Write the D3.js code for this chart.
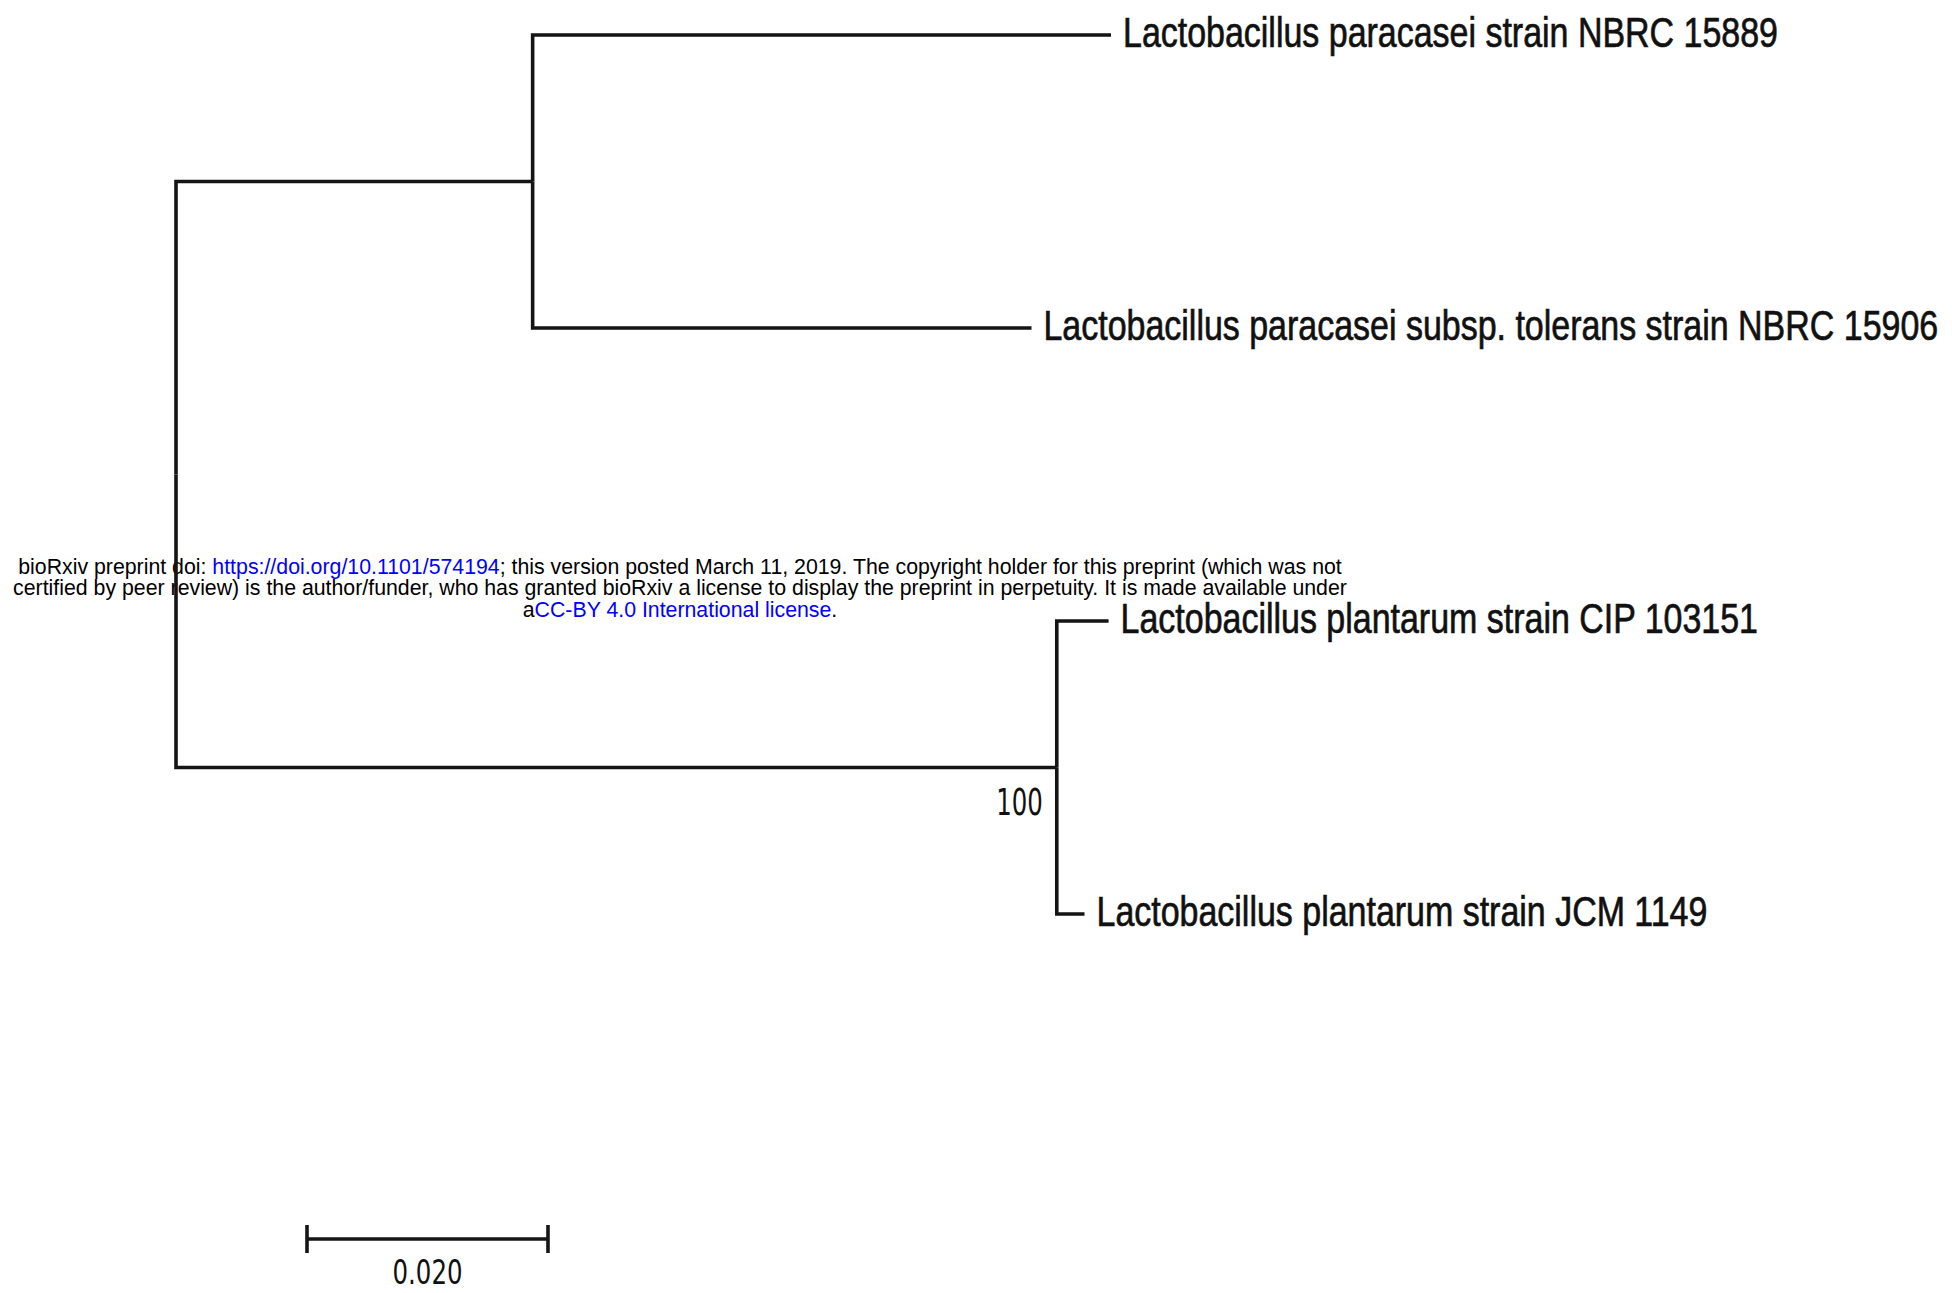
<!DOCTYPE html>
<html>
<head>
<meta charset="utf-8">
<script src="https://cdn.jsdelivr.net/npm/d3@7"></script>
<style>
  html, body { margin: 0; padding: 0; background: #fff; }
  svg { display: block; }
</style>
</head>
<body>
<svg id="chart" width="1952" height="1293"></svg>
<script>
// Taxa at the tips, top to bottom
const leafNames = [
  "Lactobacillus paracasei strain NBRC 15889",
  "Lactobacillus paracasei subsp. tolerans strain NBRC 15906",
  "Lactobacillus plantarum strain CIP 103151",
  "Lactobacillus plantarum strain JCM 1149"
];
// Terminal branch lengths (substitutions per site), same order as leafNames
const leafBranch = [0.0480, 0.0414, 0.0043, 0.0023];
// Which clade each leaf belongs to
const leafClade = [0, 0, 1, 1];
// Branch lengths from the root to each clade node
const cladeBranch = [0.0296, 0.0731];
// Bootstrap support for each clade node (null = not shown)
const cladeSupport = [null, 100];
// Scale bar
const scaleBarLength = 0.020;
const scaleBarLabel = "0.020";

// Build the tree structure
const treeData = {
  name: "root", length: 0,
  children: cladeBranch.map((len, ci) => ({
    name: "clade" + ci, length: len, support: cladeSupport[ci],
    children: leafNames
      .map((n, i) => ({ name: n, length: leafBranch[i], clade: leafClade[i] }))
      .filter(d => d.clade === ci)
  }))
};

const root = d3.hierarchy(treeData);
root.eachBefore(n => { n.dist = (n.parent ? n.parent.dist : 0) + (n.data.length || 0); });

const leaves = root.leaves();
const maxDist = d3.max(leaves, d => d.dist);

const x = d3.scaleLinear().domain([0, maxDist]).range([176, 1111]);
const y = d3.scalePoint().domain(leafNames).range([35, 914]);

root.eachAfter(n => {
  n.px = x(n.dist);
  n.py = n.children ? (d3.min(n.children, c => c.py) + d3.max(n.children, c => c.py)) / 2
                    : y(n.data.name);
});

const svg = d3.select("#chart");
const ink = "#151515";
const lineW = 3.6;
const g = svg.append("g");

// Preprint notice (drawn under the tree)
const notice = svg.insert("g", "g")
  .attr("font-family", "Liberation Sans, Arial, sans-serif")
  .attr("font-size", 21.3)
  .attr("text-anchor", "middle")
  .attr("fill", "#000");
const noticeLines = [
  [["bioRxiv preprint doi: ", "#000"], ["https://doi.org/10.1101/574194", "#0000ff"],
   ["; this version posted March 11, 2019. The copyright holder for this preprint (which was not", "#000"]],
  [["certified by peer review) is the author/funder, who has granted bioRxiv a license to display the preprint in perpetuity. It is made available under", "#000"]],
  [["a", "#000"], ["CC-BY 4.0 International license", "#0000ff"], [".", "#000"]]
];
noticeLines.forEach((parts, i) => {
  const t = notice.append("text").attr("x", 680).attr("y", 574 + i * 21.3);
  parts.forEach(p => t.append("tspan").attr("fill", p[1]).text(p[0]));
});

// Elbow branches
g.selectAll("path.branch")
  .data(root.links())
  .join("path")
  .attr("class", "branch")
  .attr("d", l => `M${l.source.px},${l.source.py}V${l.target.py}H${l.target.px}`)
  .attr("fill", "none")
  .attr("stroke", ink)
  .attr("stroke-width", lineW)
  .attr("stroke-linejoin", "miter")
  .attr("stroke-linecap", "butt");

// Tip labels (narrow, tall sans): squeezed horizontally
const condense = 0.79;
g.selectAll("text.tip")
  .data(leaves)
  .join("text")
  .attr("class", "tip")
  .attr("transform", d => `translate(${d.px + 12},${d.py + 12}) scale(${condense},1)`)
  .attr("font-family", "Liberation Sans, Arial, sans-serif")
  .attr("font-size", 43)
  .attr("fill", "#111")
  .attr("stroke", "#111")
  .attr("stroke-width", 0.7)
  .text(d => d.data.name);

// Bootstrap values, placed below-left of the node
const numCondense = 0.66;
g.selectAll("text.support")
  .data(root.descendants().filter(n => n.data.support != null))
  .join("text")
  .attr("class", "support")
  .attr("transform", d => `translate(${d.px - 14},${d.py + 47}) scale(${numCondense},1)`)
  .attr("text-anchor", "end")
  .attr("font-family", "DejaVu Sans, Verdana, sans-serif")
  .attr("font-size", 37)
  .attr("fill", "#111")
  .text(d => d.data.support);

// Scale bar
const barX0 = 307, barY = 1239;
const barLen = x(scaleBarLength) - x(0);
const bar = svg.append("g").attr("stroke", ink).attr("stroke-width", lineW);
bar.append("line").attr("x1", barX0).attr("x2", barX0 + barLen).attr("y1", barY).attr("y2", barY);
bar.append("line").attr("x1", barX0).attr("x2", barX0).attr("y1", barY - 14).attr("y2", barY + 14);
bar.append("line").attr("x1", barX0 + barLen).attr("x2", barX0 + barLen).attr("y1", barY - 14).attr("y2", barY + 14);
svg.append("text")
  .attr("transform", `translate(${barX0 + barLen / 2},1284) scale(0.72,1)`)
  .attr("text-anchor", "middle")
  .attr("font-family", "DejaVu Sans, Verdana, sans-serif")
  .attr("font-size", 34)
  .attr("fill", "#111")
  .text(scaleBarLabel);
</script>
</body>
</html>
